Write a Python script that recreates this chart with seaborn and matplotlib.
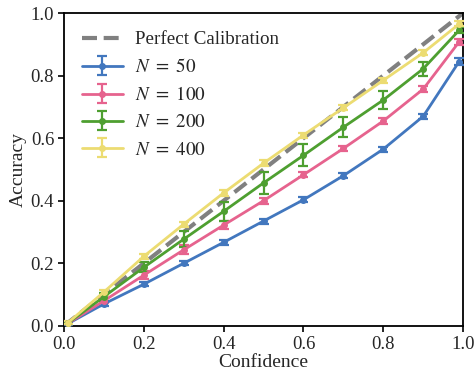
import numpy as np
import pandas as pd
import matplotlib
matplotlib.use("Agg")
import matplotlib.pyplot as plt
import seaborn as sns

# Confidence bins and measured accuracy for each sample size
confidence = [0.01, 0.1, 0.2, 0.3, 0.4, 0.5, 0.6, 0.7, 0.8, 0.9, 0.99]

acc_n50 = [0.007, 0.070, 0.133, 0.200, 0.267, 0.335, 0.403, 0.480, 0.565, 0.670, 0.845]
err_n50 = [0.003, 0.006, 0.006, 0.007, 0.007, 0.008, 0.008, 0.008, 0.008, 0.008, 0.012]

acc_n100 = [0.008, 0.080, 0.162, 0.243, 0.322, 0.400, 0.483, 0.567, 0.655, 0.757, 0.908]
err_n100 = [0.003, 0.008, 0.012, 0.014, 0.012, 0.010, 0.008, 0.008, 0.010, 0.010, 0.010]

acc_n200 = [0.009, 0.093, 0.187, 0.277, 0.366, 0.457, 0.545, 0.635, 0.722, 0.822, 0.945]
err_n200 = [0.004, 0.012, 0.016, 0.025, 0.030, 0.035, 0.035, 0.032, 0.030, 0.022, 0.010]

acc_n400 = [0.010, 0.108, 0.222, 0.325, 0.425, 0.520, 0.610, 0.697, 0.785, 0.873, 0.965]
err_n400 = [0.004, 0.008, 0.008, 0.008, 0.010, 0.010, 0.008, 0.008, 0.008, 0.008, 0.008]

sample_sizes = [50, 100, 200, 400]
colors = ["#4277BE", "#E6638E", "#4E9F30", "#ECDC72"]

diag = pd.DataFrame({"conf": [0.0, 1.0], "acc": [0.0, 1.0]})

sns.set_theme(style="ticks")
plt.rcParams["font.family"] = ["serif"]
plt.rcParams["font.serif"] = ["Liberation Serif", "DejaVu Serif"]
plt.rcParams["mathtext.fontset"] = "stix"

fig = plt.figure(figsize=(4.77, 3.72), dpi=100)
ax = fig.add_axes([0.134, 0.124, 0.837, 0.841])

sns.lineplot(data=diag, x="conf", y="acc", ax=ax, color="#808080",
             linestyle=(0, (3.6, 1.6)), linewidth=3, label="Perfect Calibration",
             zorder=1)

series = [(acc_n50, err_n50), (acc_n100, err_n100),
          (acc_n200, err_n200), (acc_n400, err_n400)]
for n, (acc, err), c in zip(sample_sizes, series, colors):
    ax.errorbar(confidence, acc, yerr=err, fmt="o-", color=c, markersize=4,
                linewidth=2, elinewidth=1.6, capsize=3.5, capthick=1.6,
                label=rf"$N\ =\ {n}$", zorder=3)

ax.set_xlim(0, 1)
ax.set_ylim(0, 1)
ax.set_xticks(np.arange(0, 1.01, 0.2))
ax.set_yticks(np.arange(0, 1.01, 0.2))
ax.set_xlabel("Confidence", fontsize=14, labelpad=1)
ax.set_ylabel("Accuracy", fontsize=14, labelpad=3)
ax.tick_params(labelsize=13.5, length=4, width=1.2, color="black", pad=3)
for s in ax.spines.values():
    s.set_linewidth(1.3)
    s.set_color("black")

ax.legend(loc="upper left", frameon=False, fontsize=13.7, handlelength=2.15,
          borderaxespad=0.55, labelspacing=0.52, handletextpad=0.65)

fig.savefig("out.png", dpi=100)
